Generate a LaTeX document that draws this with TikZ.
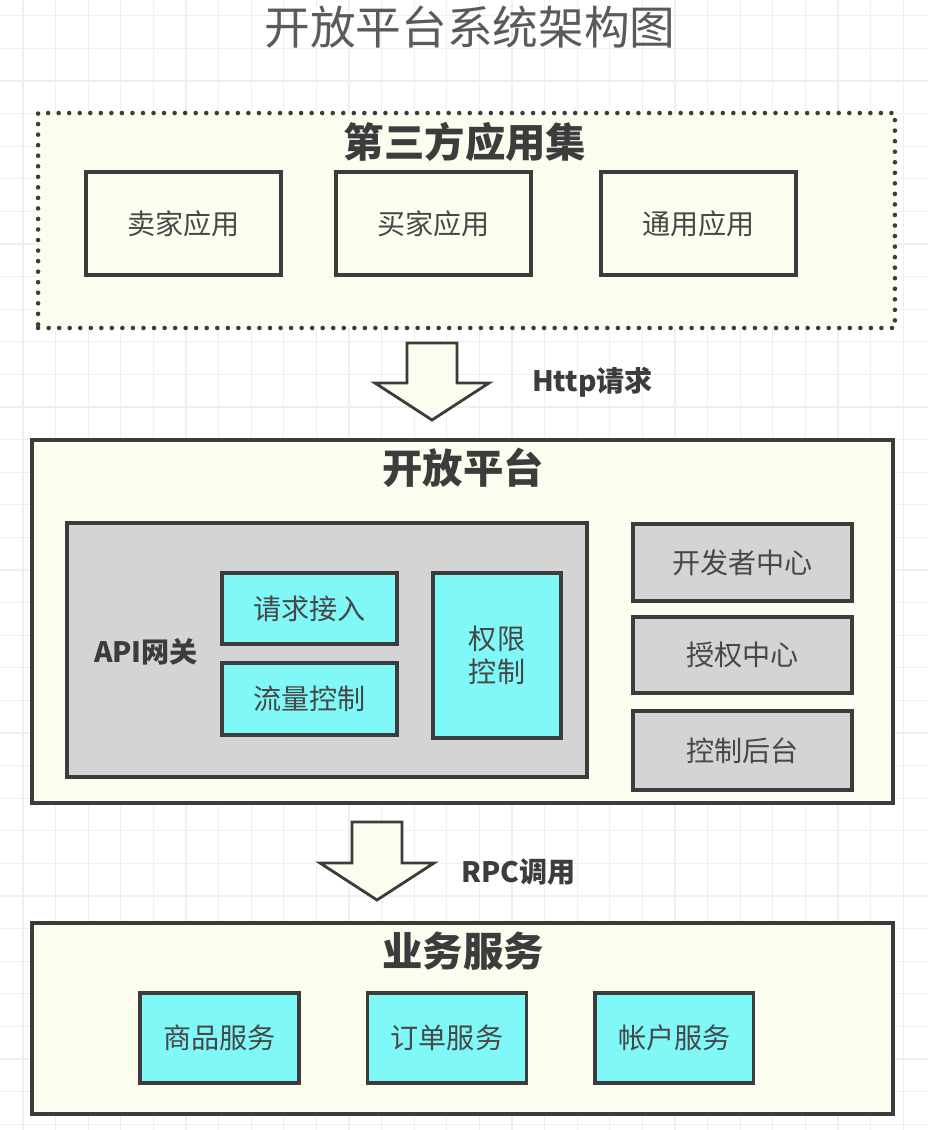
\documentclass[tikz,border=0pt]{standalone}
\usepackage{fontspec}
\setmainfont{Noto Sans CJK SC}
\definecolor{paper}{HTML}{FCFCEF}
\definecolor{aqua}{HTML}{80F8F8}
\definecolor{shade}{HTML}{D4D4D4}
\definecolor{edge}{HTML}{3C3C3C}
\definecolor{ink}{HTML}{474747}
\definecolor{gridgray}{HTML}{EFEFEF}
\begin{document}
\begin{tikzpicture}
[x=0.02cm, y=-0.02cm, node distance=4.55cm, font=\fontsize{16}{19}\selectfont, text=ink]

\tikzstyle{panel}=[rectangle, draw=edge, line width=1.9pt, fill=paper]
\tikzstyle{dotpanel}=[rectangle, draw=edge, line width=2.6pt, fill=paper, dash pattern=on 0pt off 6pt, line cap=round]
\tikzstyle{head}=[font=\fontsize{23}{27}\selectfont\bfseries, text=edge]
\tikzstyle{appbox}=[rectangle, draw=edge, line width=1.8pt, fill=paper, minimum width=3.9cm, minimum height=2.06cm]
\tikzstyle{cyanbox}=[rectangle, draw=edge, line width=1.8pt, fill=aqua]
\tikzstyle{graybox}=[rectangle, draw=edge, line width=1.8pt, fill=shade]
\tikzstyle{blockarrow}=[draw=edge, line width=1.6pt, fill=paper, line join=miter]
\tikzstyle{gridline}=[draw=gridgray, line width=0.6pt]

\useasboundingbox (0,0) rectangle (928,1130);
\fill[white] (0,0) rectangle (928,1130);

% background grid
\foreach \k in {0,...,27} \draw[gridline] (23+32.6*\k,0) -- (23+32.6*\k,1130);
\foreach \k in {0,...,34} \draw[gridline] (0,15.8+32.6*\k) -- (928,15.8+32.6*\k);

\node (title) at (470,27) [font=\fontsize{26}{30}\selectfont, text=ink!90] {开放平台系统架构图};

% third-party applications
\node[dotpanel, minimum width=17.14cm, minimum height=4.3cm] (apps) at (466.5,220.5) {};
\node[head] (appshead) at (465,142) {第三方应用集};
\node[appbox] (seller) at (183.5,223.5) {卖家应用};
\node[appbox] (buyer)  at (433.5,223.5) {买家应用};
\node[appbox] (common) at (698.5,223.5) {通用应用};

% open platform
\node[panel, minimum width=17.22cm, minimum height=7.26cm] (platform) at (462.5,621.5) {};
\node[head] (platformhead) at (463,468) {开放平台};
\node[graybox, minimum width=10.4cm, minimum height=5.08cm] (gateway) at (327,650) {};
\node[font=\fontsize{16}{19}\selectfont\bfseries, text=edge] (gwlabel) at (146,652) {API网关};
\node[cyanbox, minimum width=3.5cm, minimum height=1.42cm] (reqin) at (309.5,608.5) {请求接入};
\node[cyanbox, minimum width=3.5cm, minimum height=1.44cm] (flow)  at (309.5,699) {流量控制};
\node[cyanbox, minimum width=2.56cm, minimum height=3.3cm, align=center] (perm) at (497,655.5) {权限\\控制};
\node[graybox, minimum width=4.38cm, minimum height=1.54cm] (devcenter)  at (742.5,562.5) {开发者中心};
\node[graybox, minimum width=4.38cm, minimum height=1.52cm] (authcenter) at (742.5,655) {授权中心};
\node[graybox, minimum width=4.38cm, minimum height=1.58cm] (console)    at (742.5,750.5) {控制后台};

% business services
\node[panel, minimum width=17.22cm, minimum height=3.82cm] (biz) at (462.5,1018.5) {};
\node[head] (bizhead) at (463,951) {业务服务};
\node[cyanbox, minimum width=3.18cm, minimum height=1.8cm] (goods) at (219.5,1038) {商品服务};
\node[cyanbox, minimum width=3.18cm, minimum height=1.8cm] (order)   [right of=goods] {订单服务};
\node[cyanbox, minimum width=3.18cm, minimum height=1.8cm] (account) [right of=order] {帐户服务};

% block arrows between layers
\foreach \cx/\ty/\tp in {432/343/420, 377/822/900}
  \draw[blockarrow] (\cx-25,\ty) -- (\cx+25,\ty) -- (\cx+25,\tp-37) -- (\cx+57,\tp-37)
    -- (\cx,\tp) -- (\cx-57,\tp-37) -- (\cx-25,\tp-37) -- cycle;
\node[anchor=west, font=\fontsize{16}{19}\selectfont\bfseries, text=edge] (http) at (526,382) {Http请求};
\node[anchor=west, font=\fontsize{16}{19}\selectfont\bfseries, text=edge] (rpc)  at (455,872) {RPC调用};
\end{tikzpicture}
\end{document}
